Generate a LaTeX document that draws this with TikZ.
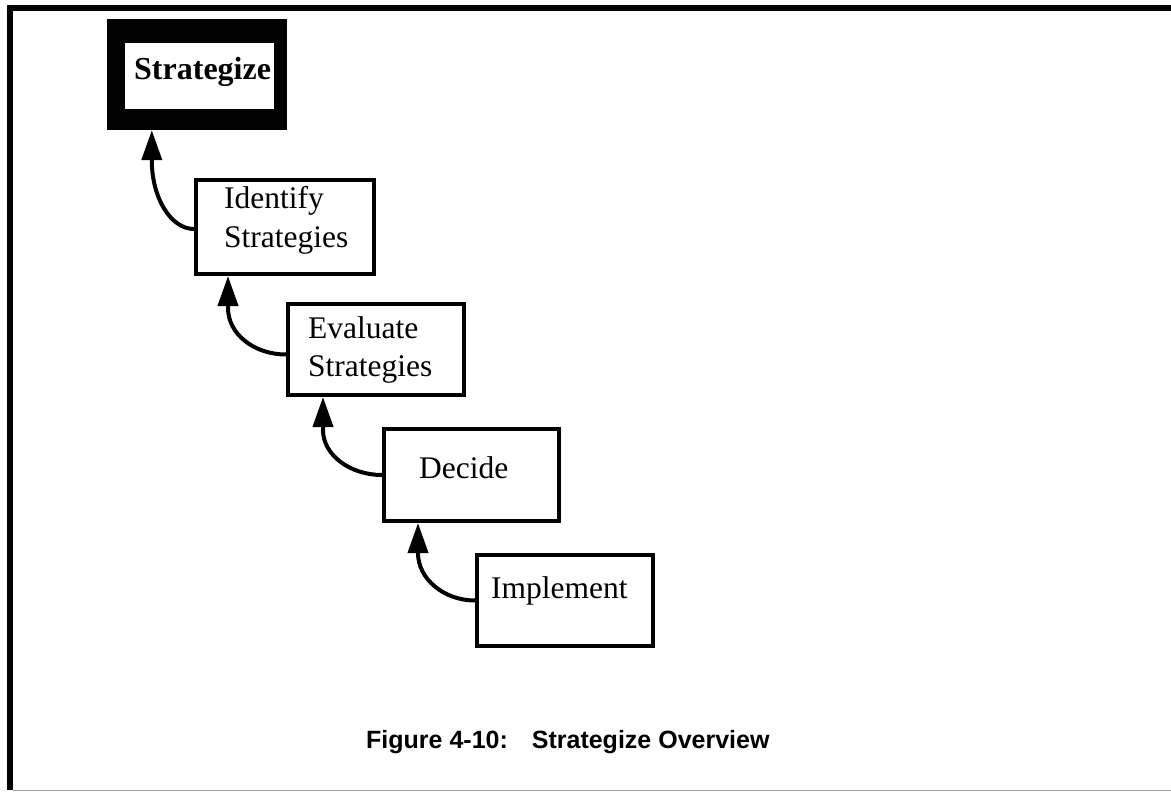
\documentclass[tikz,border=0pt]{standalone}
\usepackage{fontspec}
\setmainfont{Liberation Serif}
\newfontfamily\capfont{Liberation Sans}
\usetikzlibrary{arrows.meta,calc}

\tikzset{
  stepbox/.style={draw, line width=4pt, minimum width=176pt, minimum height=92pt, inner sep=0pt},
  steptext/.style={anchor=base west, inner sep=0pt, font=\fontsize{31.5}{37}\selectfont},
  flowarrow/.style={line width=4pt, -{Triangle[length=30pt,width=20pt]}},
}

\begin{document}
\begin{tikzpicture}[x=1pt,y=-1pt]
  \useasboundingbox (0,0) rectangle (1171,792);
  \fill[white] (0,0) rectangle (1171,792);

  % page frame: heavy rule on top and left, thin grey rule at the bottom
  \draw[line width=6pt, miter limit=10] (10,790) -- (10,8) -- (1180,8);
  \draw[line width=1.5pt, color=black!37] (13,790.5) -- (1180,790.5);

  % the overall process, shown with a heavy border
  \node[fill=black, inner sep=0pt, minimum width=180pt, minimum height=111pt] (strat) at (197,74.5) {};
  \node[fill=white, inner sep=0pt, minimum width=149pt, minimum height=66pt] (stratin) at (199.5,76) {};
  \node[steptext, font=\fontsize{32}{38}\selectfont\bfseries] (stratT) at (134,80) {Strategize};

  % sub-steps
  \node[stepbox, minimum width=178pt, minimum height=94pt] (ident) at (285,227) {};
  \node[stepbox, minimum height=91pt] (eval) at (376,349.5) {};
  \node[stepbox, minimum width=175pt] (decide) at (471.5,475) {};
  \node[stepbox, minimum height=91pt] (impl) at (565,600.5) {};

  \node[steptext] (identA) at (224,208) {Identify};
  \node[steptext] (identB) at (224,247) {Strategies};
  \node[steptext] (evalA) at (308,338) {Evaluate};
  \node[steptext] (evalB) at (308,376) {Strategies};
  \node[steptext] (decideT) at (419,478) {Decide};
  \node[steptext] (implT) at (491,598) {Implement};

  % arrow tips on the bottom edge of each box
  \coordinate (t1) at ($(strat.south west)+(45,0)$);
  \coordinate (t2) at ($(ident.south west)+(34,0)$);
  \coordinate (t3) at ($(eval.south west)+(37,0)$);
  \coordinate (t4) at ($(decide.south west)+(36,0)$);

  \draw[flowarrow] ($(ident.west)+(0,2)$) .. controls +(-23,0) and +(0,38) .. ($(t1)+(0,30)$) -- (t1);
  \draw[flowarrow] ($(eval.west)+(0,5)$) .. controls +(-32,0) and +(0,26) .. ($(t2)+(0,32)$) -- (t2);
  \draw[flowarrow] (decide.west) .. controls +(-32,0) and +(0,25) .. ($(t3)+(0,33)$) -- (t3);
  \draw[flowarrow] (impl.west) .. controls +(-31,0) and +(0,26) .. ($(t4)+(0,30)$) -- (t4);

  % caption
  \node[anchor=base west, inner sep=0pt, font=\capfont\bfseries\fontsize{25}{30}\selectfont] (caption) at (366,748)
    {Figure 4-10:\hspace{24pt}Strategize Overview};
\end{tikzpicture}
\end{document}
